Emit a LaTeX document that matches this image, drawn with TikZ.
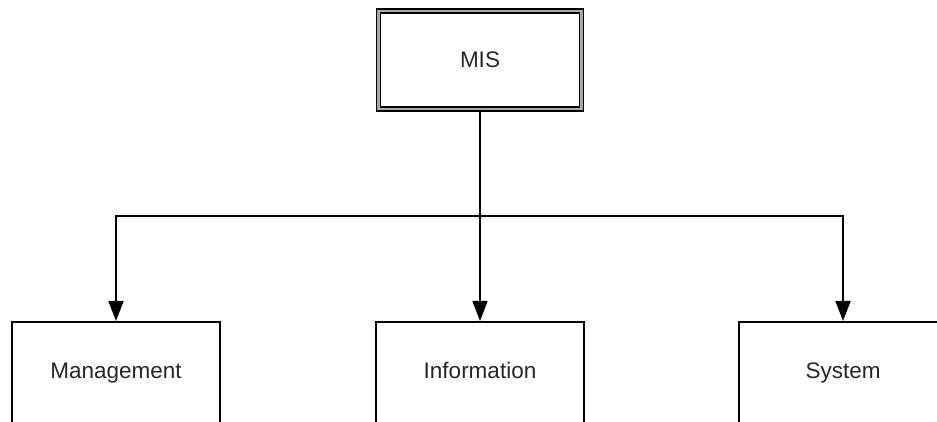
\documentclass[tikz,border=0pt]{standalone}
\usepackage{fontspec}
\setmainfont{Liberation Sans}
\usetikzlibrary{arrows.meta}
\begin{document}
\begin{tikzpicture}[x=1pt,y=1pt,
  every node/.style={font=\fontsize{22.5pt}{26pt}\selectfont, text=black!85},
  link/.style={line width=1.6pt, black},
  arrowlink/.style={link, -{Triangle[length=20pt,width=15pt]}},
  topbox/.style={draw=black, line width=1.5pt, double=black!35, double distance=2.5pt,
    minimum width=203pt, minimum height=98pt, inner sep=0pt},
  partbox/.style={draw=black, line width=1.6pt, inner sep=0pt,
    text width=208pt, align=center, text height=57pt, text depth=110pt}
]
\useasboundingbox (0,0) rectangle (937,422);
\clip (0,0) rectangle (937,422);

% top-level box
\node[topbox] (mis) at (480,362) {MIS};

% the three parts, running off the lower edge
\node[partbox, anchor=north] (mgmt) at (116,101) {Management};
\node[partbox, anchor=north] (info) at (480,101) {Information};
\node[partbox, anchor=north] (sys)  at (843,101) {System};

% branching connectors
\coordinate (j) at (480,206);
\draw[link] (mis.south) -- (j);
\draw[arrowlink] (j) -| (mgmt.north);
\draw[arrowlink] (j) -- (info.north);
\draw[arrowlink] (j) -| (sys.north);
\end{tikzpicture}
\end{document}
